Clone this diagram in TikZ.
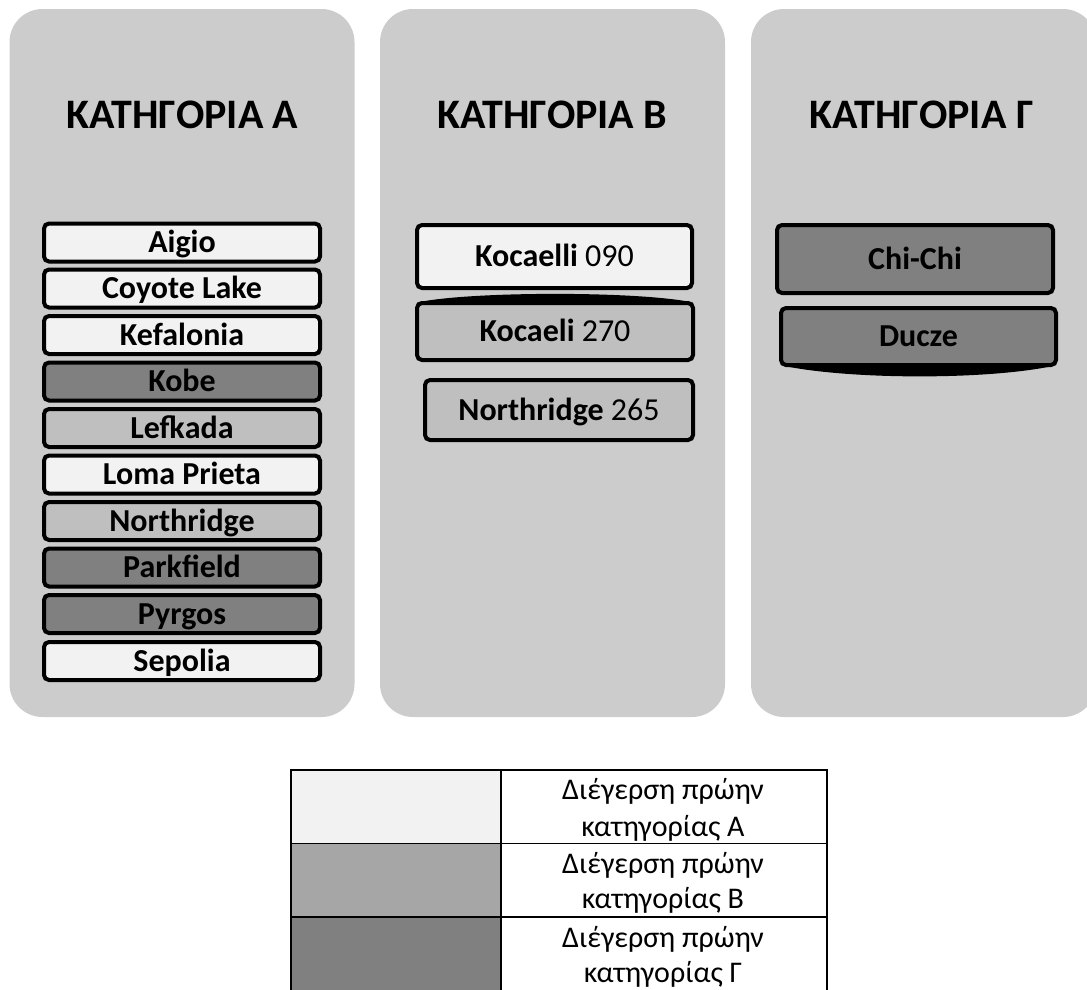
\documentclass[tikz,border=0pt]{standalone}
\usepackage{fontspec}
\setmainfont{Carlito}
\usetikzlibrary{calc}
\definecolor{panelgray}{HTML}{CCCCCC}
\definecolor{lightc}{HTML}{F2F2F2}
\definecolor{midc}{HTML}{BFBFBF}
\definecolor{darkc}{HTML}{808080}
\definecolor{legmid}{HTML}{A6A6A6}
\begin{document}
\begin{tikzpicture}[x=1pt,y=-1pt,
  panel/.style={fill=panelgray, rounded corners=33pt, inner sep=0pt, minimum width=345pt, minimum height=708pt},
  heading/.style={anchor=base, font=\fontsize{42}{50}\selectfont\bfseries, text=black},
  ebox/.style={draw=black, line width=4pt, rounded corners=5pt, inner sep=0pt,
    font=\fontsize{32}{38}\selectfont, text=black, text height=20.2pt, text depth=0pt},
  lbox/.style={ebox, minimum width=276pt, minimum height=38pt, font=\fontsize{32}{38}\selectfont\bfseries},
  cell/.style={draw=black, line width=1.5pt, inner sep=0pt, minimum height=73.5pt},
  legtext/.style={anchor=base, font=\fontsize{30}{37}\selectfont, text=black}]
\useasboundingbox (0,0) rectangle (1087,989);
% panels
\node[panel] (pA) at (182,363) {};
\node[panel] (pB) at (552.5,363) {};
\node[panel] (pC) at (923.5,363) {};
\node[heading] (hA) at (182.5,128) {ΚΑΤΗΓΟΡΙΑ Α};
\node[heading] (hB) at (552.5,128) {ΚΑΤΗΓΟΡΙΑ Β};
\node[heading] (hC) at (921.5,128) {ΚΑΤΗΓΟΡΙΑ Γ};
% column A
\node[lbox, fill=lightc] (a1) at (182,242.5) {Aigio};
\node[lbox, fill=lightc] (a2) at (182,288.5) {Coyote Lake};
\node[lbox, fill=lightc] (a3) at (182,335) {Kefalonia};
\node[lbox, fill=darkc]  (a4) at (182,381.5) {Kobe};
\node[lbox, fill=midc]   (a5) at (182,428) {Lefkada};
\node[lbox, fill=lightc] (a6) at (182,474.5) {Loma Prieta};
\node[lbox, fill=midc]   (a7) at (182,521) {Northridge};
\node[lbox, fill=darkc]  (a8) at (182,567.5) {Parkfield};
\node[lbox, fill=darkc]  (a9) at (182,614) {Pyrgos};
\node[lbox, fill=lightc] (a10) at (182,661) {Sepolia};
% column B
\node[ebox, fill=lightc, minimum width=275pt, minimum height=63pt] (b1) at (554.5,256.5) {\textbf{Kocaelli} 090};
\node[ebox, fill=midc, minimum width=276pt, minimum height=57pt] (b2) at (555,331.5) {\textbf{Kocaeli} 270};
\node[ebox, fill=midc, minimum width=268pt, minimum height=60pt] (b3) at (559,410) {\textbf{Northridge} 265};
\fill[black] ($(b2.north west)+(2,1.5)$) .. controls (470,291) and (640,291) .. ($(b2.north east)+(-2,1.5)$) -- cycle;
% column C
\node[ebox, fill=darkc, minimum width=276pt, minimum height=68pt] (c1) at (915,259) {\textbf{Chi-Chi}};
\node[ebox, fill=darkc, minimum width=275pt, minimum height=57pt] (c2) at (918.5,336.5) {\textbf{Ducze}};
\fill[black] ($(c2.south west)+(3,-1.5)$) .. controls (850,380) and (990,380) .. ($(c2.south east)+(-3,-1.5)$) -- cycle;
% legend
\node[cell, fill=lightc, minimum width=210pt] (l1) at (396,806.5) {};
\node[cell, fill=legmid, minimum width=210pt] (l2) at (396,880) {};
\node[cell, fill=darkc, minimum width=210pt] (l3) at (396,953.5) {};
\node[cell, fill=white, minimum width=326pt] (r1) at (664,806.5) {};
\node[cell, fill=white, minimum width=326pt] (r2) at (664,880) {};
\node[cell, fill=white, minimum width=326pt] (r3) at (664,953.5) {};
\node[legtext] (t1a) at (663,799) {Διέγερση πρώην};
\node[legtext] (t1b) at (663,836) {κατηγορίας Α};
\node[legtext] (t2a) at (663,873) {Διέγερση πρώην};
\node[legtext] (t2b) at (663,908) {κατηγορίας Β};
\node[legtext] (t3a) at (663,947) {Διέγερση πρώην};
\node[legtext] (t3b) at (663,982) {κατηγορίας Γ};
\end{tikzpicture}
\end{document}
